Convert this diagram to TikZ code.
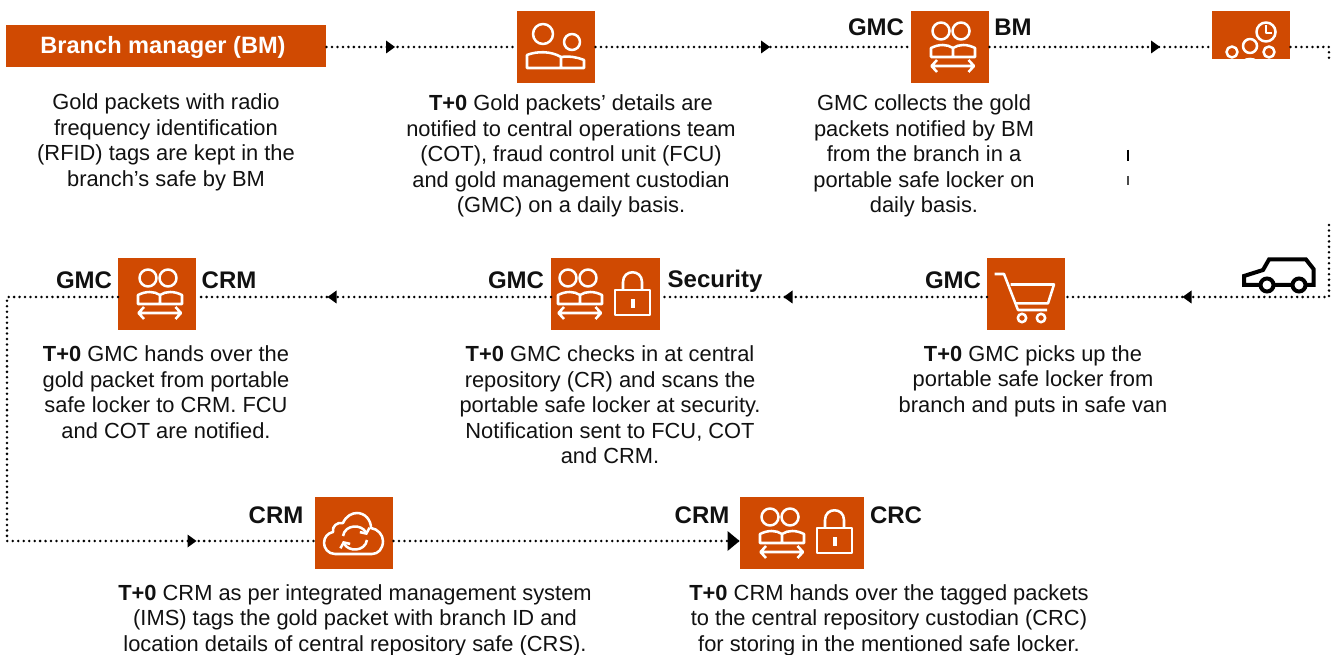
\documentclass[tikz,border=0pt]{standalone}
\usepackage{fontspec}
\setmainfont{Liberation Sans}
\usetikzlibrary{decorations.markings,arrows.meta}
\definecolor{brandor}{HTML}{D04A02}
\definecolor{ink}{HTML}{111111}
\newcommand{\bt}{\textbf{T+0}}
\tikzset{
  box/.style={fill=brandor,inner sep=0pt,anchor=north west,minimum height=72*0.75pt},
  tag/.style={font=\fontsize{18}{20}\selectfont\bfseries,text=ink,inner sep=0pt},
  desc/.style={font=\fontsize{16.4}{19.1}\selectfont,text=ink,align=center,inner sep=0pt},
  flow/.style={line width=2.1pt,line cap=round,dash pattern=on 0pt off 4.1pt,black},
  tipat/.style={postaction={decorate,decoration={markings,mark=at position #1*0.75pt with {\fill[black,solid] (-4.5,-6.5)--(4.5,0)--(-4.5,6.5)--cycle;}}}},
  bigtipat/.style={postaction={decorate,decoration={markings,mark=at position #1*0.75pt with {\fill[black,solid] (-6,-10)--(6,0)--(-6,10)--cycle;}}}},
  ico/.style={white,line width=1.9pt,line join=round},
  duo/.pic={
    \draw[ico] (30,20) circle (8.5) (50,20) circle (8.5);
    \draw[ico] (20,46)--(20,37) .. controls (28,33) and (36,33) .. (42,37) .. controls (48,33) and (56,33) .. (64,37) -- (64,46) -- cycle (42,37)--(42,46);
    \draw[ico] (26,49)--(20.5,55)--(26,61) (20.5,55)--(63,55) (57.5,49)--(63,55)--(57.5,61);
  },
  padlock/.pic={
    \draw[ico] (0,32) rectangle (35,57);
    \draw[ico] (8,32)--(8,24) .. controls (8,11) and (27,11) .. (27,24) -- (27,32);
    \fill[white] (15.5,41) rectangle (19.5,50);
  },
}
\begin{document}
\begin{tikzpicture}[x=0.75pt,y=-0.75pt]
\useasboundingbox (0,0) rectangle (1331,655);
\coordinate (rowa) at (0,47);
\coordinate (rowb) at (0,297);
\coordinate (rowc) at (0,541);
\coordinate (cnA) at (1329,59);
\coordinate (cnB) at (1329,225);
\coordinate (cnC) at (7,297);
\coordinate (cnD) at (7,541);
% boxes
\node[box,minimum width=320*0.75pt,minimum height=42*0.75pt] (ban) at (6,25) {};
\node[text=white,inner sep=0pt,font=\fontsize{17.7}{20}\selectfont\bfseries] (bantext) at (163,47) {Branch manager (BM)};
\node[box,minimum width=78*0.75pt] (b1) at (517,11) {};
\node[box,minimum width=78*0.75pt] (b2) at (911,11) {};
\node[box,minimum width=78*0.75pt,minimum height=48*0.75pt] (b3) at (1212,11) {};
\node[box,minimum width=78*0.75pt] (b4) at (118,258) {};
\node[box,minimum width=109*0.75pt] (b5) at (551,258) {};
\node[box,minimum width=78*0.75pt] (b6) at (987,258) {};
\node[box,minimum width=78*0.75pt] (b7) at (315,497) {};
\node[box,minimum width=124*0.75pt] (b8) at (740,497) {};
% connectors
\draw[flow,tipat=64] (ban.east |- rowa) -- (b1.west |- rowa);
\draw[flow,tipat=170] (b1.east |- rowa) -- (b2.west |- rowa);
\draw[flow,tipat=166] (b2.east |- rowa) -- (b3.west |- rowa);
\draw[flow] (b3.east |- rowa) -| (cnA);
\draw[flow,tipat=214] (cnB) |- (b6.east |- rowb);
\draw[flow,tipat=199] (b6.west |- rowb) -- (b5.east |- rowb);
\draw[flow,tipat=219] (b5.west |- rowb) -- (b4.east |- rowb);
\draw[flow,tipat=540] (b4.west |- rowb) -- (cnC) -- (cnD) -- (b7.west |- rowc);
\draw[flow,bigtipat=340] (b7.east |- rowc) -- (b8.west |- rowc);
% icon: two people
\begin{scope}[shift={(517,11)}]
\draw[ico] (26,23) circle (10) (55,31) circle (8);
\draw[ico] (10,57)--(10,44) .. controls (20,40) and (34,40) .. (44,46) .. controls (52,45) and (60,46) .. (67,49) -- (67,57) -- cycle (44,46)--(44,57);
\end{scope}
% icon: duos
\pic at (911,11) {duo};
\pic at (118,258) {duo};
\pic at (538,258) {duo};
\pic at (740,497) {duo};
\pic at (615,258) {padlock};
\pic at (817,496) {padlock};
% icon: clock and circles (cut off)
\begin{scope}
\clip (b3.north west) rectangle (b3.south east);
\draw[ico] (1266,32) circle (9.5) (1232,52) circle (5.5) (1250,46) circle (7) (1269,52) circle (5.5);
\draw[ico,line width=1.3pt] (1266,25)--(1266,33)--(1272,33);
\draw[ico] (1238,68) .. controls (1242,56) and (1258,56) .. (1262,68);
\end{scope}
% icon: cart
\draw[ico] (994.5,274)--(1004,274)--(1018,310)--(1047,310);
\draw[ico] (1010.7,284.5)--(1054,284.5)--(1048,303.4)--(1015,303.4);
\draw[ico] (1022,318) circle (4.2) (1041,318) circle (4.2);
% icon: cloud
\begin{scope}[shift={(315,497)}]
\draw[ico] (20,57) .. controls (13,57) and (9,51) .. (9,46) .. controls (9,40) and (13,36) .. (18,35) .. controls (17,29) and (22,25) .. (28,26) .. controls (31,19) and (37,16) .. (42,16) .. controls (50,16) and (56,23) .. (56,31) .. controls (63,32) and (68,38) .. (68,44) .. controls (68,52) and (63,57) .. (57,57) -- cycle;
\draw[ico,-{Straight Barb[length=3pt,width=8pt]}] (28,39) .. controls (30,27) and (47,27) .. (52,38);
\draw[ico,-{Straight Barb[length=3pt,width=8pt]}] (52,43) .. controls (50,55) and (33,55) .. (28,44);
\end{scope}
% icon: van
\draw[black,line width=3pt,line join=miter] (1244,285)--(1244,276)--(1263,270)--(1269,259.5)--(1306,259.5)--(1313.5,269)--(1313.5,285)--cycle;
\node[circle,draw=black,fill=white,line width=3pt,minimum size=13*0.75pt,inner sep=0pt] (wa) at (1267,285) {};
\node[circle,draw=black,fill=white,line width=3pt,minimum size=13*0.75pt,inner sep=0pt] (wb) at (1299,285) {};
% remnants of clipped text
\draw[black,line width=0.9pt] (1128,150)--(1128,161);
\draw[black!70,line width=0.9pt] (1128,176)--(1128,185);
% labels
\node[tag] (t1) at (876,27) {GMC};
\node[tag] (t2) at (1013,27) {BM};
\node[tag] (t3) at (84,280) {GMC};
\node[tag] (t4) at (229,280) {CRM};
\node[tag] (t5) at (516,280) {GMC};
\node[tag] (t6) at (715,281) {Security};
\node[tag] (t7) at (953,280) {GMC};
\node[tag] (t8) at (276,515) {CRM};
\node[tag] (t9) at (702,515) {CRM};
\node[tag] (t10) at (896,515) {CRC};
% descriptions
\node[desc] (d1) at (166,142.5) {Gold packets with radio\\frequency identification\\(RFID) tags are kept in the\\branch’s safe by BM};
\node[desc] (d2) at (571,156) {\bt{} Gold packets’ details are\\notified to central operations team\\(COT), fraud control unit (FCU)\\and gold management custodian\\(GMC) on a daily basis.};
\node[desc] (d3) at (924,156) {GMC collects the gold\\packets notified by BM\\from the branch in a\\portable safe locker on\\daily basis.};
\node[desc] (d4) at (166,392) {\bt{} GMC hands over the\\gold packet from portable\\safe locker to CRM. FCU\\and COT are notified.};
\node[desc] (d5) at (610,405) {\bt{} GMC checks in at central\\repository (CR) and scans the\\portable safe locker at security.\\Notification sent to FCU, COT\\and CRM.};
\node[desc] (d6) at (1033,381) {\bt{} GMC picks up the\\portable safe locker from\\branch and puts in safe van};
\node[desc] (d7) at (355,620) {\bt{} CRM as per integrated management system\\(IMS) tags the gold packet with branch ID and\\location details of central repository safe (CRS).};
\node[desc] (d8) at (889,620) {\bt{} CRM hands over the tagged packets\\to the central repository custodian (CRC)\\for storing in the mentioned safe locker.};
\end{tikzpicture}
\end{document}
